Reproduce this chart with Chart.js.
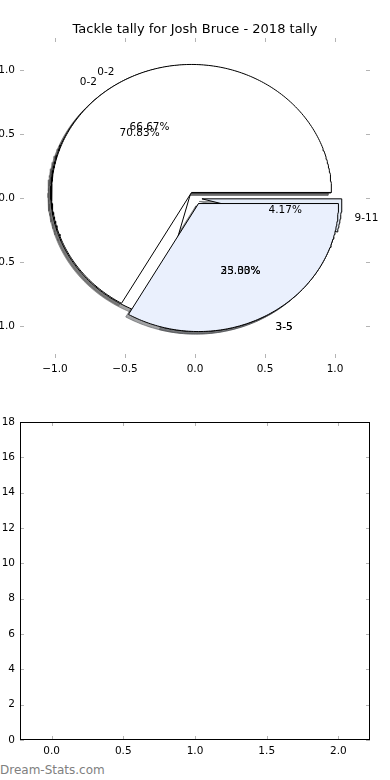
<!DOCTYPE html>
<html>
<head>
<meta charset="utf-8">
<title>Tackle tally</title>
<script src="https://cdn.jsdelivr.net/npm/chart.js@4.4.1/dist/chart.umd.min.js"></script>
<style>
  html, body { margin: 0; padding: 0; background: #fff; }
  #page { position: relative; width: 390px; height: 780px; overflow: hidden; }
  #pieBox { position: absolute; left: 0; top: 0; width: 390px; height: 390px; }
  #countBox { position: absolute; left: 0; top: 390px; width: 390px; height: 370px; }
  #mark { position: absolute; left: 0; top: 763px; font: 12px "DejaVu Sans", sans-serif; color: #808080; }
</style>
</head>
<body>
<div id="page">
  <div id="pieBox"><canvas id="pieChart"></canvas></div>
  <div id="countBox"><canvas id="countChart"></canvas></div>
  <div id="mark">Dream-Stats.com</div>
</div>
<script>
const chartTitle = "Tackle tally for Josh Bruce - 2018 tally";

// two tallies on the same axes, the second one is drawn on top
const tallyBLabels = ["0-2", "3-5", "9-11"];
const tallyBValues = [17, 6, 1];
const tallyALabels = ["0-2", "3-5"];
const tallyAValues = [4, 2];

const pieTicks = [-1, -0.5, 0, 0.5, 1];
const countXTicks = [0, 0.5, 1, 1.5, 2];
const countYTicks = [0, 2, 4, 6, 8, 10, 12, 14, 16, 18];

const sliceFill = { "0-2": "#ffffff", "3-5": "#eaf0fd", "9-11": "#e4ecf8" };
const EXPLODE = 0.05;
const SHADOW = 0.02;

Chart.defaults.font.family = '"DejaVu Sans", sans-serif';
Chart.defaults.color = "#000";

function buildWedges(labels, values) {
  const total = values.reduce((a, b) => a + b, 0);
  let start = 0;
  return values.map((v, i) => {
    const sweep = 360 * v / total;
    const mid = (start + sweep / 2) * Math.PI / 180;
    const w = {
      label: labels[i], pct: 100 * v / total,
      start: start, end: start + sweep, mid: mid,
      cx: EXPLODE * Math.cos(mid), cy: EXPLODE * Math.sin(mid)
    };
    start += sweep;
    return w;
  });
}

function outline(w, dx, dy) {
  const ox = w.cx + dx, oy = w.cy + dy;
  const pts = [{ x: ox, y: oy }];
  const n = Math.max(2, Math.ceil(w.end - w.start));
  for (let k = 0; k <= n; k++) {
    const a = (w.start + (w.end - w.start) * k / n) * Math.PI / 180;
    pts.push({ x: ox + Math.cos(a), y: oy + Math.sin(a) });
  }
  pts.push({ x: ox, y: oy });
  return pts;
}

function shadowColor(hex) {
  const n = parseInt(hex.slice(1), 16);
  const r = Math.round(((n >> 16) & 255) * 0.3);
  const g = Math.round(((n >> 8) & 255) * 0.3);
  const b = Math.round((n & 255) * 0.3);
  return "rgba(" + r + "," + g + "," + b + ",0.5)";
}

const wedgesB = buildWedges(tallyBLabels, tallyBValues);
const wedgesA = buildWedges(tallyALabels, tallyAValues);
const allWedges = wedgesB.concat(wedgesA);

// bottom to top: shadows, then wedges
const layers = [];
allWedges.forEach(w => {
  const c = shadowColor(sliceFill[w.label]);
  layers.push({ data: outline(w, -SHADOW, -SHADOW), backgroundColor: c, borderColor: c });
});
allWedges.forEach(w => {
  layers.push({ data: outline(w, 0, 0), backgroundColor: sliceFill[w.label], borderColor: "#000" });
});
const pieDatasets = layers.map((l, i) => Object.assign({
  showLine: true, fill: "shape", pointRadius: 0, borderWidth: 1, tension: 0,
  order: layers.length - i
}, l));

function fmtTick(v) {
  return (v < 0 ? "\u2212" : "") + Math.abs(v).toFixed(1);
}

const innerTicks = {
  id: "innerTicks",
  afterDraw(chart, args, opts) {
    const { ctx, chartArea: a, scales: { x, y } } = chart;
    ctx.save();
    ctx.lineWidth = 1;
    ctx.strokeStyle = "#b4b4b4";
    ctx.beginPath();
    x.ticks.forEach((t, i) => {
      const px = Math.round(x.getPixelForTick(i)) + 0.5;
      ctx.moveTo(px, a.top); ctx.lineTo(px, a.top + 4);
      ctx.moveTo(px, a.bottom); ctx.lineTo(px, a.bottom - 4);
    });
    y.ticks.forEach((t, i) => {
      const py = Math.round(y.getPixelForTick(i)) + 0.5;
      ctx.moveTo(a.left, py); ctx.lineTo(a.left + 4, py);
      ctx.moveTo(a.right, py); ctx.lineTo(a.right - 4, py);
    });
    ctx.stroke();
    if (opts.frame) {
      ctx.strokeStyle = "#000";
      ctx.strokeRect(Math.round(a.left) + 0.5, Math.round(a.top) + 0.5,
        Math.round(a.right - a.left) - 1, Math.round(a.bottom - a.top) - 1);
    }
    if (opts.title) {
      ctx.fillStyle = "#000";
      ctx.font = '13px "DejaVu Sans", sans-serif';
      ctx.textAlign = "center";
      ctx.textBaseline = "alphabetic";
      ctx.fillText(opts.title, (a.left + a.right) / 2, a.top - 5);
    }
    ctx.restore();
  }
};

const pieText = {
  id: "pieText",
  afterDatasetsDraw(chart) {
    const { ctx, scales: { x, y } } = chart;
    ctx.save();
    ctx.font = '10.5px "DejaVu Sans", sans-serif';
    ctx.fillStyle = "#000";
    ctx.textBaseline = "middle";
    allWedges.forEach(w => {
      const c = Math.cos(w.mid), s = Math.sin(w.mid);
      const lx = w.cx + 1.1 * c, ly = w.cy + 1.1 * s;
      ctx.textAlign = lx > 0 ? "left" : "right";
      ctx.fillText(w.label, x.getPixelForValue(lx), y.getPixelForValue(ly) + 1.5);
      ctx.textAlign = "center";
      ctx.fillText(w.pct.toFixed(2) + "%", x.getPixelForValue(w.cx + 0.6 * c), y.getPixelForValue(w.cy + 0.6 * s) + 1.5);
    });
    ctx.restore();
  }
};

function axis(min, max, tickList, fit, fmt) {
  return {
    type: "linear", min: min, max: max,
    afterBuildTicks: s => { s.ticks = tickList.map(v => ({ value: v })); },
    afterFit: fit,
    grid: { display: false, drawTicks: false },
    border: { display: false },
    ticks: { padding: 5, font: { size: 10.5 }, color: "#000", callback: fmt }
  };
}

new Chart(document.getElementById("pieChart"), {
  type: "scatter",
  data: { datasets: pieDatasets },
  options: {
    responsive: true, maintainAspectRatio: false, animation: false, events: [],
    layout: { padding: { left: 0, right: 20, top: 38, bottom: 0 } },
    plugins: {
      legend: { display: false },
      tooltip: { enabled: false },
      innerTicks: { frame: false, title: chartTitle }
    },
    scales: {
      x: axis(-1.25, 1.25, pieTicks, s => { s.height = 32; }, fmtTick),
      y: axis(-1.25, 1.25, pieTicks, s => { s.width = 20; }, fmtTick)
    }
  },
  plugins: [innerTicks, pieText]
});

new Chart(document.getElementById("countChart"), {
  type: "scatter",
  data: { datasets: [] },
  options: {
    responsive: true, maintainAspectRatio: false, animation: false, events: [],
    layout: { padding: { left: 0, right: 20, top: 32, bottom: 0 } },
    plugins: {
      legend: { display: false },
      tooltip: { enabled: false },
      innerTicks: { frame: true }
    },
    scales: {
      x: axis(-0.22, 2.22, countXTicks, s => { s.height = 20; }, v => v.toFixed(1)),
      y: axis(0, 18, countYTicks, s => { s.width = 20; }, v => String(v))
    }
  },
  plugins: [innerTicks]
});
</script>
</body>
</html>
